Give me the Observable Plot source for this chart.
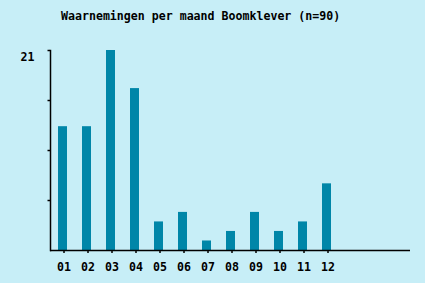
<!DOCTYPE html>
<html>
<head>
<meta charset="utf-8">
<script src="https://cdn.jsdelivr.net/npm/d3@7"></script>
<script src="https://cdn.jsdelivr.net/npm/@observablehq/plot@0.6"></script>
<style>
  html, body { margin: 0; padding: 0; background: #c7eef7; width: 425px; height: 283px; overflow: hidden; }
  #title { font-family: "DejaVu Sans Mono", monospace; font-weight: bold; font-size: 11.6px; line-height: 14px; height: 21px; padding-top: 9px; padding-left: 61px; color: #000; white-space: pre; }
  svg { display: block; }
</style>
</head>
<body>
<div id="title"></div>
<div id="chart"></div>
<script>
const title = "Waarnemingen per maand Boomklever (n=90)";
const months = ["01","02","03","04","05","06","07","08","09","10","11","12"];
const counts = [13, 13, 21, 17, 3, 4, 1, 2, 4, 2, 3, 7];
const emptySlots = ["13","14","15"];
const yTicks = [5.25, 10.5, 15.75, 21];
const yLabels = [21];

document.getElementById("title").textContent = title;
const data = months.map((m, i) => ({month: m, count: counts[i]}));

const chart = Plot.plot({
  width: 425,
  height: 253,
  marginTop: 20,
  marginBottom: 33,
  marginLeft: 50,
  marginRight: 15,
  style: {background: "transparent", fontFamily: "DejaVu Sans Mono, monospace", fontSize: "11.6px", fontWeight: "bold", color: "#000"},
  x: {domain: [...months, ...emptySlots], paddingInner: 0.625, paddingOuter: 0.3125},
  y: {domain: [0, 21]},
  marks: [
    Plot.barY(data, {x: "month", y: "count", fill: "#0086a8"}),
    Plot.axisX({ticks: months, tickSize: 3, tickPadding: 9, dx: 1, label: null, stroke: "#000", strokeOpacity: 1, strokeWidth: 1.5}),
    Plot.axisY({ticks: yTicks, tickSize: 2.5, tickFormat: () => "", label: null, stroke: "#000", strokeOpacity: 1, strokeWidth: 1.5}),
    Plot.axisY({ticks: yLabels, tickSize: 0, tickPadding: 16, dy: 7, tickFormat: d => String(d), label: null}),
    Plot.ruleY([0], {stroke: "#000", strokeWidth: 1.5}),
    Plot.frame({anchor: "left", stroke: "#000", strokeWidth: 1.5})
  ]
});
document.getElementById("chart").appendChild(chart);
</script>
</body>
</html>
